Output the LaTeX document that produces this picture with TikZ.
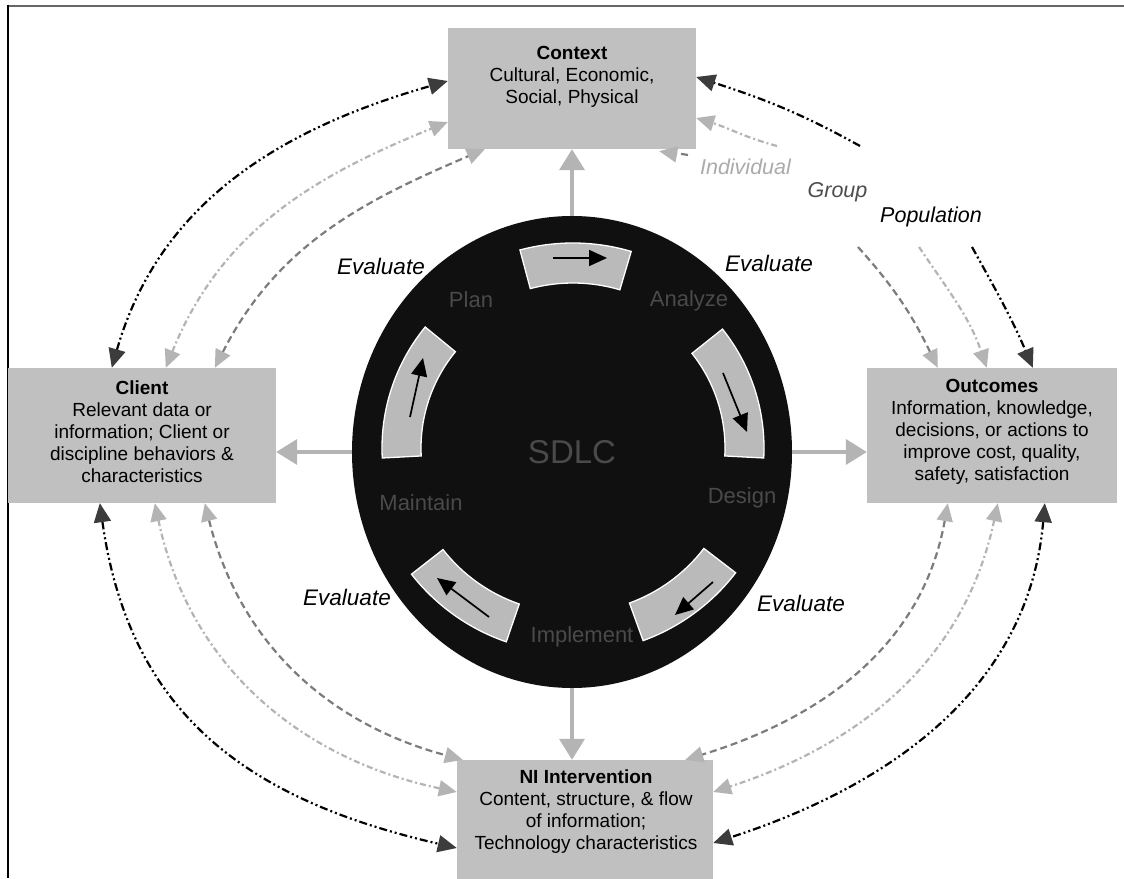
\documentclass[tikz,border=0pt]{standalone}
\usepackage{fontspec}
\setmainfont{Liberation Sans}
\usetikzlibrary{arrows.meta,shapes.geometric}

\definecolor{boxgray}{HTML}{C0C0C0}
\definecolor{seggray}{HTML}{BABABA}
\definecolor{hubblack}{HTML}{101010}
\definecolor{stagegray}{HTML}{4A4A4A}
\definecolor{linkgray}{HTML}{B4B4B4}
\definecolor{midgray}{HTML}{7C7C7C}
\definecolor{headdark}{HTML}{3C3C3C}
\definecolor{framegray}{HTML}{666666}
\definecolor{indgray}{HTML}{ABABAB}
\definecolor{grpgray}{HTML}{4D4D4D}

\tikzset{
  darktip/.tip={Triangle[length=19pt,width=17pt,color=headdark]},
  lighttip/.tip={Triangle[length=18pt,width=16pt,color=linkgray]},
}

% annular sector: inner radius, outer radius, start angle, end angle
\newcommand\ringseg[4]{%
  \filldraw[segpiece] (#3:#1) arc[start angle=#3,end angle=#4,radius=#1]
    -- (#4:#2) arc[start angle=#4,end angle=#3,radius=#2] -- cycle;}

\begin{document}
\begin{tikzpicture}[x=1pt,y=1pt,
  box/.style={fill=boxgray, inner sep=0pt, draw=none},
  boxtext/.style={align=center, font=\fontsize{19}{22}\selectfont, inner sep=0pt},
  stagelabel/.style={text=stagegray, font=\fontsize{22}{26}\selectfont, inner sep=0pt},
  evallabel/.style={font=\fontsize{22.5}{26}\selectfont\itshape, inner sep=0pt},
  scalelabel/.style={font=\fontsize{21.5}{25}\selectfont\itshape, inner sep=0pt},
  segpiece/.style={fill=seggray, draw=white, line width=1.3pt},
  cyclearrow/.style={line width=1.7pt, black, -{Triangle[length=18pt,width=16pt]}},
  feedarrow/.style={line width=3.8pt, draw=linkgray, -{Triangle[length=21pt,width=25pt,color=linkgray]}},
  darkdd/.style={line width=2.2pt, black, dash pattern=on 8pt off 3pt on 2pt off 3pt on 2pt off 3pt},
  lightdd/.style={line width=2.2pt, linkgray, dash pattern=on 6pt off 3pt on 2pt off 3pt},
  middash/.style={line width=2.2pt, midgray, dash pattern=on 7pt off 4pt},
]
\useasboundingbox (0,0) rectangle (1124,878);
\fill[white] (0,0) rectangle (1124,878);

% frame
\draw[framegray, line width=1.5pt] (7,872) -- (1124,872);
\draw[black, line width=2pt] (7.5,873) -- (7.5,0);

% boxes
\node[box, minimum width=248pt, minimum height=121pt] (ctx) at (572,789.5) {};
\node[boxtext] (ctxtext) at (572,801) {\textbf{Context}\\Cultural, Economic,\\Social, Physical};
\node[box, minimum width=268pt, minimum height=135pt] (client) at (142,442.5) {};
\node[boxtext] (clienttext) at (142,446) {\textbf{Client}\\Relevant data or\\information; Client or\\discipline behaviors \&\\characteristics};
\node[box, minimum width=250pt, minimum height=135pt] (outc) at (992,442.5) {};
\node[boxtext] (outctext) at (992,446) {\textbf{Outcomes}\\Information, knowledge,\\decisions, or actions to\\improve cost, quality,\\safety, satisfaction};
\node[box, minimum width=256pt, minimum height=122pt] (ni) at (585,57) {};
\node[boxtext] (nitext) at (586,66.5) {\textbf{NI Intervention}\\Content, structure, \& flow\\of information;\\Technology characteristics};

% SDLC hub
\node[ellipse, fill=hubblack, minimum width=440pt, minimum height=472pt, inner sep=0pt,
      text=stagegray, font=\fontsize{33}{36}\selectfont] (sdlc) at (572,426) {SDLC};

% cycle segments
\begin{scope}[shift={(573,430)}]
  \ringseg{165}{205}{73.5}{105}
  \ringseg{165}{205}{218}{251}
  \ringseg{165}{205}{290}{322.5}
  \ringseg{152}{191}{-3}{38.5}
  \ringseg{152}{191}{140.7}{183}
\end{scope}
\draw[cyclearrow] (553,620) -- (607,620);
\draw[cyclearrow] (723,505) -- (747,446);
\draw[cyclearrow] (713,296) -- (675,263);
\draw[cyclearrow] (489,261) -- (437,300);
\draw[cyclearrow] (410,461) -- (423,520);

% stage labels
\node[stagelabel] (plan) at (471,578) {Plan};
\node[stagelabel] (analyze) at (689,577) {Analyze};
\node[stagelabel] (design) at (742,380) {Design};
\node[stagelabel] (implement) at (582,241) {Implement};
\node[stagelabel] (maintain) at (421,375) {Maintain};

% evaluate labels
\node[evallabel] (evtl) at (381,612) {Evaluate};
\node[evallabel] (evtr) at (769,615) {Evaluate};
\node[evallabel] (evbl) at (347,281) {Evaluate};
\node[evallabel] (evbr) at (801,275) {Evaluate};

% level labels
\node[scalelabel, text=indgray] (individual) at (745.5,711) {Individual};
\node[scalelabel, text=grpgray] (group) at (837.5,686) {Group};
\node[scalelabel, text=black] (population) at (931,661) {Population};

% hub to boxes
\draw[feedarrow] (sdlc.north) -- (sdlc.north |- ctx.south);
\draw[feedarrow] (sdlc.west) -- (sdlc.west -| client.east);
\draw[feedarrow] (sdlc.east) -- (sdlc.east -| outc.west);
\draw[feedarrow] (sdlc.south) -- (sdlc.south |- ni.north);

% Client <-> Context
\draw[darkdd, darktip-darktip] ([xshift=104pt]client.north west) to[out=74,in=196] ([yshift=7.5pt]ctx.west);
\draw[lightdd, lighttip-lighttip] ([xshift=158pt]client.north west) to[out=68,in=202] ([yshift=-33.5pt]ctx.west);
\draw[middash, lighttip-lighttip] ([xshift=207pt]client.north west) to[out=63,in=203] ([xshift=37pt]ctx.south west);

% levels -> Context
\coordinate (popctx) at (860,732);
\coordinate (indctx) at (777,732);
\coordinate (grpctx) at (688,723);
\draw[darkdd, -darktip] (popctx) to[out=151,in=-18] ([yshift=11.5pt]ctx.east);
\draw[lightdd, -lighttip] (indctx) to[out=165,in=-17] ([yshift=-29.5pt]ctx.east);
\draw[middash, -lighttip] (grpctx) to[out=170,in=-10] ([xshift=-37pt,yshift=-2pt]ctx.south east);

% levels -> Outcomes
\coordinate (grpout) at (858,631);
\coordinate (indout) at (919,631);
\coordinate (popout) at (972,631);
\draw[middash, -lighttip] (grpout) to[out=-48,in=116] ([xshift=71pt]outc.north west);
\draw[lightdd, -lighttip] (indout) to[out=-56,in=109] ([xshift=120pt]outc.north west);
\draw[darkdd, -darktip] (popout) to[out=-61,in=113] ([xshift=166pt]outc.north west);

% Client <-> NI Intervention
\draw[darkdd, darktip-darktip] ([xshift=92pt]client.south west) to[out=-82,in=167,looseness=1.1] ([yshift=-27pt]ni.west);
\draw[lightdd, lighttip-lighttip] ([xshift=147pt]client.south west) to[out=-78,in=168] ([yshift=29pt]ni.west);
\draw[middash, lighttip-lighttip] ([xshift=197pt]client.south west) to[out=-76,in=165] ([xshift=6pt]ni.north west);

% Outcomes <-> NI Intervention
\draw[middash, lighttip-lighttip] ([xshift=81pt]outc.south west) to[out=-100,in=17] ([xshift=-28pt]ni.north east);
\draw[lightdd, lighttip-lighttip] ([xshift=131pt]outc.south west) to[out=-102,in=18] ([yshift=29pt]ni.east);
\draw[darkdd, darktip-darktip] ([xshift=178pt]outc.south west) to[out=-95,in=18] ([yshift=-22pt]ni.east);
\end{tikzpicture}
\end{document}
